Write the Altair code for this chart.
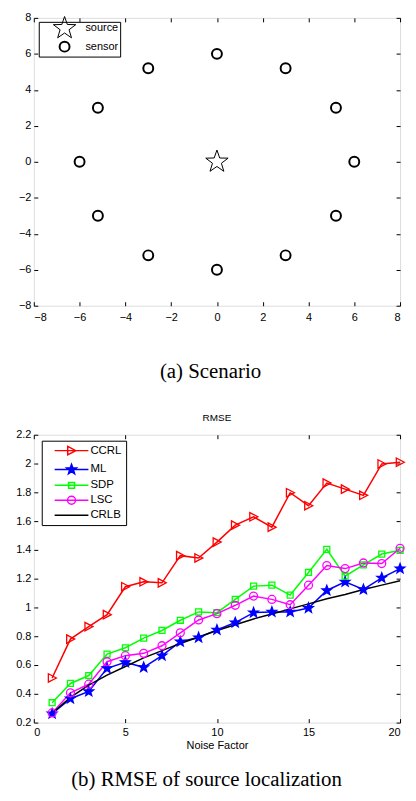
import math
import altair as alt
import pandas as pd

# ---------------- data: scenario ----------------
sensor_x = [0, 3, 5.2, 6, 5.2, 3, 0, -3, -5.2, -6, -5.2, -3]
sensor_y = [6, 5.2, 3, 0, -3, -5.2, -6, -5.2, -3, 0, 3, 5.2]
source_x = [0]
source_y = [0]
scen_ticks = [-8, -6, -4, -2, 0, 2, 4, 6, 8]
scen_kinds = ["source", "sensor"]

# ---------------- data: RMSE ----------------
noise = list(range(1, 21))
ccrl = [0.51, 0.78, 0.867, 0.95, 1.144, 1.178, 1.171, 1.36, 1.344, 1.454,
        1.572, 1.63, 1.558, 1.797, 1.707, 1.864, 1.822, 1.779, 1.997, 2.009]
ml = [0.262, 0.366, 0.416, 0.577, 0.619, 0.584, 0.665, 0.762, 0.791, 0.844,
      0.895, 0.964, 0.969, 0.969, 0.996, 1.118, 1.178, 1.125, 1.206, 1.27]
sdp = [0.338, 0.472, 0.527, 0.676, 0.72, 0.787, 0.84, 0.911, 0.969, 0.964,
       1.056, 1.148, 1.155, 1.086, 1.243, 1.404, 1.217, 1.296, 1.371, 1.397]
lsc = [0.267, 0.407, 0.467, 0.623, 0.665, 0.681, 0.734, 0.824, 0.913, 0.957,
       1.015, 1.079, 1.056, 1.019, 1.155, 1.291, 1.27, 1.309, 1.305, 1.411]
crlb = [0.265, 0.375, 0.46, 0.53, 0.59, 0.65, 0.70, 0.75, 0.795, 0.84,
        0.88, 0.92, 0.955, 0.99, 1.025, 1.06, 1.09, 1.125, 1.155, 1.185]
methods = ["CCRL", "ML", "SDP", "LSC", "CRLB"]
rmse_x_ticks = [0, 5, 10, 15, 20]
rmse_y_ticks = [0.2, 0.4, 0.6, 0.8, 1.0, 1.2, 1.4, 1.6, 1.8, 2.0, 2.2]

caption_a = "(a) Scenario"
caption_b = "(b) RMSE of source localization"
title_b = "RMSE"
xlabel_b = "Noise Factor"

# ---------------- styles ----------------
SANS = "Liberation Sans"
SERIF = "Liberation Serif"
W = 369


def star_path(r_in=0.4, scale=1.0):
    pts = []
    for k in range(10):
        ang = math.radians(-90 + 36 * k)
        r = (1.0 if k % 2 == 0 else r_in) * scale
        pts.append((r * math.cos(ang), r * math.sin(ang)))
    return "M" + "L".join(f"{x:.3f},{y:.3f}" for x, y in pts) + "Z"


def tri_path(s=1.0):
    return f"M{-0.85*s:.3f},{-0.95*s:.3f}L{0.95*s:.3f},0L{-0.85*s:.3f},{0.95*s:.3f}Z"


def sq_path(s=1.0):
    return f"M{-s:.3f},{-s:.3f}H{s:.3f}V{s:.3f}H{-s:.3f}Z"


def circ_path(s=1.0):
    return f"M{s:.3f},0A{s:.3f},{s:.3f} 0 1,1 {-s:.3f},0A{s:.3f},{s:.3f} 0 1,1 {s:.3f},0Z"


# scenario marker styles
scen_shape = {"source": star_path(0.4), "sensor": "circle"}
scen_size = {"source": 560, "sensor": 100}
scen_sw = {"source": 1.0, "sensor": 2.0}
# legend symbols drawn at symbolSize 100 (1 unit = 5 px)
scen_leg_paths = [star_path(0.4, 2.37), circ_path(1.0)]

colors = {"CCRL": "#ff0000", "ML": "#0000ff", "SDP": "#00ff00", "LSC": "#ff00ff", "CRLB": "#000000"}
fills = {"CCRL": "transparent", "ML": "#0000ff", "SDP": "transparent", "LSC": "transparent", "CRLB": "transparent"}
marker_shape = {"CCRL": tri_path(), "ML": star_path(0.42), "SDP": sq_path(), "LSC": circ_path()}
marker_size = {"CCRL": 80, "ML": 105, "SDP": 36, "LSC": 64}
LINE = "M-3.4,0L3.4,0"
legend_paths = [
    LINE + tri_path(0.9),
    LINE + star_path(0.42, 1.05),
    LINE + sq_path(0.6),
    LINE + circ_path(0.8),
    LINE,
]

axis_common = dict(
    grid=False, domain=False, ticks=True, tickColor="black", tickSize=4, offset=-4,
    labelColor="black", labelFont=SANS, labelFontSize=11, title=None,
)

# ---------------- top: scenario ----------------
scen_df = pd.DataFrame({
    "x": source_x + sensor_x,
    "y": source_y + sensor_y,
    "kind": ["source"] * len(source_x) + ["sensor"] * len(sensor_x),
})
scen_df["shape"] = scen_df["kind"].map(scen_shape)
scen_df["size"] = scen_df["kind"].map(scen_size)
scen_df["sw"] = scen_df["kind"].map(scen_sw)

sx = alt.Scale(domain=[-8, 8], nice=False, zero=False)
sy = alt.Scale(domain=[-8, 8], nice=False, zero=False)

top_pts = alt.Chart(scen_df).mark_point(filled=False, color="black", opacity=1).encode(
    x=alt.X("x:Q", scale=sx, axis=alt.Axis(values=scen_ticks, orient="bottom", labelPadding=6, **axis_common)),
    y=alt.Y("y:Q", scale=sy, axis=alt.Axis(values=scen_ticks, orient="left", labelPadding=3, **axis_common)),
    shape=alt.Shape("shape:N", scale=None),
    size=alt.Size("size:Q", scale=None),
    strokeWidth=alt.StrokeWidth("sw:Q", scale=None),
)
top_ticks = alt.Chart(scen_df).mark_point(opacity=0).encode(
    x=alt.X("x:Q", scale=sx, axis=alt.Axis(values=scen_ticks, orient="top", labels=False, **axis_common)),
    y=alt.Y("y:Q", scale=sy, axis=alt.Axis(values=scen_ticks, orient="right", labels=False, **axis_common)),
)
top_leg = alt.Legend(
    title=None, orient="none", legendX=5, legendY=4, strokeColor="black", fillColor="white",
    padding=1, labelFont=SANS, labelFontSize=11, labelColor="black", rowPadding=-4,
    symbolStrokeColor="black", symbolSize=100, symbolOffset=19, labelOffset=15, symbolOpacity=1,
)
top_leg_layer = alt.Chart(pd.DataFrame({"kind": scen_kinds})).mark_point(filled=False, opacity=0).encode(
    x=alt.datum(0, axis=None),
    y=alt.datum(0, axis=None),
    shape=alt.Shape("kind:N", scale=alt.Scale(domain=scen_kinds, range=scen_leg_paths), legend=top_leg),
    strokeWidth=alt.StrokeWidth("kind:N", scale=alt.Scale(domain=scen_kinds, range=[scen_sw[k] for k in scen_kinds]), legend=top_leg),
)
cap_a = alt.Chart(pd.DataFrame({"t": [caption_a]})).mark_text(
    font=SERIF, fontSize=21, color="black", baseline="alphabetic", align="center"
).encode(x=alt.value(178), y=alt.value(363), text="t:N")

top = alt.layer(top_pts, top_ticks, top_leg_layer, cap_a).resolve_axis(x="independent", y="independent").properties(
    width=W, height=290
)

# ---------------- bottom: RMSE ----------------
rows = []
for m, vals in zip(methods, [ccrl, ml, sdp, lsc, crlb]):
    for n, v in zip(noise, vals):
        rows.append({"noise": n, "rmse": v, "method": m})
rm_df = pd.DataFrame(rows)
rm_df["stroke"] = rm_df["method"].map(colors)
pt_df = rm_df[rm_df["method"] != "CRLB"].copy()
pt_df["fill"] = pt_df["method"].map(fills)
pt_df["shape"] = pt_df["method"].map(marker_shape)
pt_df["size"] = pt_df["method"].map(marker_size)

bx = alt.Scale(domain=[0, 20], nice=False, zero=False)
by = alt.Scale(domain=[0.2, 2.2], nice=False, zero=False)

lines = alt.Chart(rm_df).mark_line(strokeWidth=1.5).encode(
    x=alt.X("noise:Q", scale=bx, axis=alt.Axis(values=rmse_x_ticks, orient="bottom", labelPadding=4,
                                              **{**axis_common, "title": xlabel_b},
                                              titleFont=SANS, titleFontSize=11, titleFontWeight="normal",
                                              titleColor="black", titlePadding=2)),
    y=alt.Y("rmse:Q", scale=by, axis=alt.Axis(values=rmse_y_ticks, format=".1~f", orient="left",
                                             labelPadding=3, **axis_common)),
    stroke=alt.Stroke("stroke:N", scale=None),
    detail="method:N",
    order="noise:Q",
)
pts = alt.Chart(pt_df).mark_point(strokeWidth=1.3, opacity=1).encode(
    x=alt.X("noise:Q", scale=bx, axis=alt.Axis(values=rmse_x_ticks, orient="top", labels=False, **axis_common)),
    y=alt.Y("rmse:Q", scale=by, axis=alt.Axis(values=rmse_y_ticks, orient="right", labels=False, **axis_common)),
    stroke=alt.Stroke("stroke:N", scale=None),
    fill=alt.Fill("fill:N", scale=None),
    shape=alt.Shape("shape:N", scale=None),
    size=alt.Size("size:Q", scale=None),
)
bot_leg = alt.Legend(
    title=None, orient="none", legendX=8, legendY=6, strokeColor="black", fillColor="white",
    padding=4, labelFont=SANS, labelFontSize=11.5, labelColor="black", rowPadding=2,
    symbolSize=100, symbolStrokeWidth=1.5, symbolOpacity=1, symbolOffset=20, labelOffset=13,
)
leg_layer = alt.Chart(pd.DataFrame({"method": methods})).mark_point(opacity=0).encode(
    x=alt.datum(10, axis=None),
    y=alt.datum(1.0, axis=None),
    shape=alt.Shape("method:N", scale=alt.Scale(domain=methods, range=legend_paths), legend=bot_leg),
    stroke=alt.Stroke("method:N", scale=alt.Scale(domain=methods, range=[colors[m] for m in methods]), legend=bot_leg),
    fill=alt.Fill("method:N", scale=alt.Scale(domain=methods, range=[fills[m] for m in methods]), legend=bot_leg),
)
cap_b = alt.Chart(pd.DataFrame({"t": [caption_b]})).mark_text(
    font=SERIF, fontSize=21, color="black", baseline="alphabetic", align="center"
).encode(x=alt.value(174), y=alt.value(354), text="t:N")

bottom = alt.layer(lines, pts, leg_layer, cap_b).resolve_axis(x="independent", y="independent").properties(
    width=W, height=290,
    title=alt.Title(title_b, font=SANS, fontSize=10, fontWeight="normal", color="black", offset=6),
)

chart = alt.vconcat(top, bottom, spacing=130, bounds="flush").resolve_scale(
    shape="independent", size="independent", strokeWidth="independent",
    stroke="independent", fill="independent",
).properties(
    padding={"left": 7, "top": 0, "right": 0, "bottom": 0}
).configure_view(stroke="black", strokeWidth=1.2).configure(background="white")

chart.save("out.html", embed_options={"renderer": "svg", "actions": False})
